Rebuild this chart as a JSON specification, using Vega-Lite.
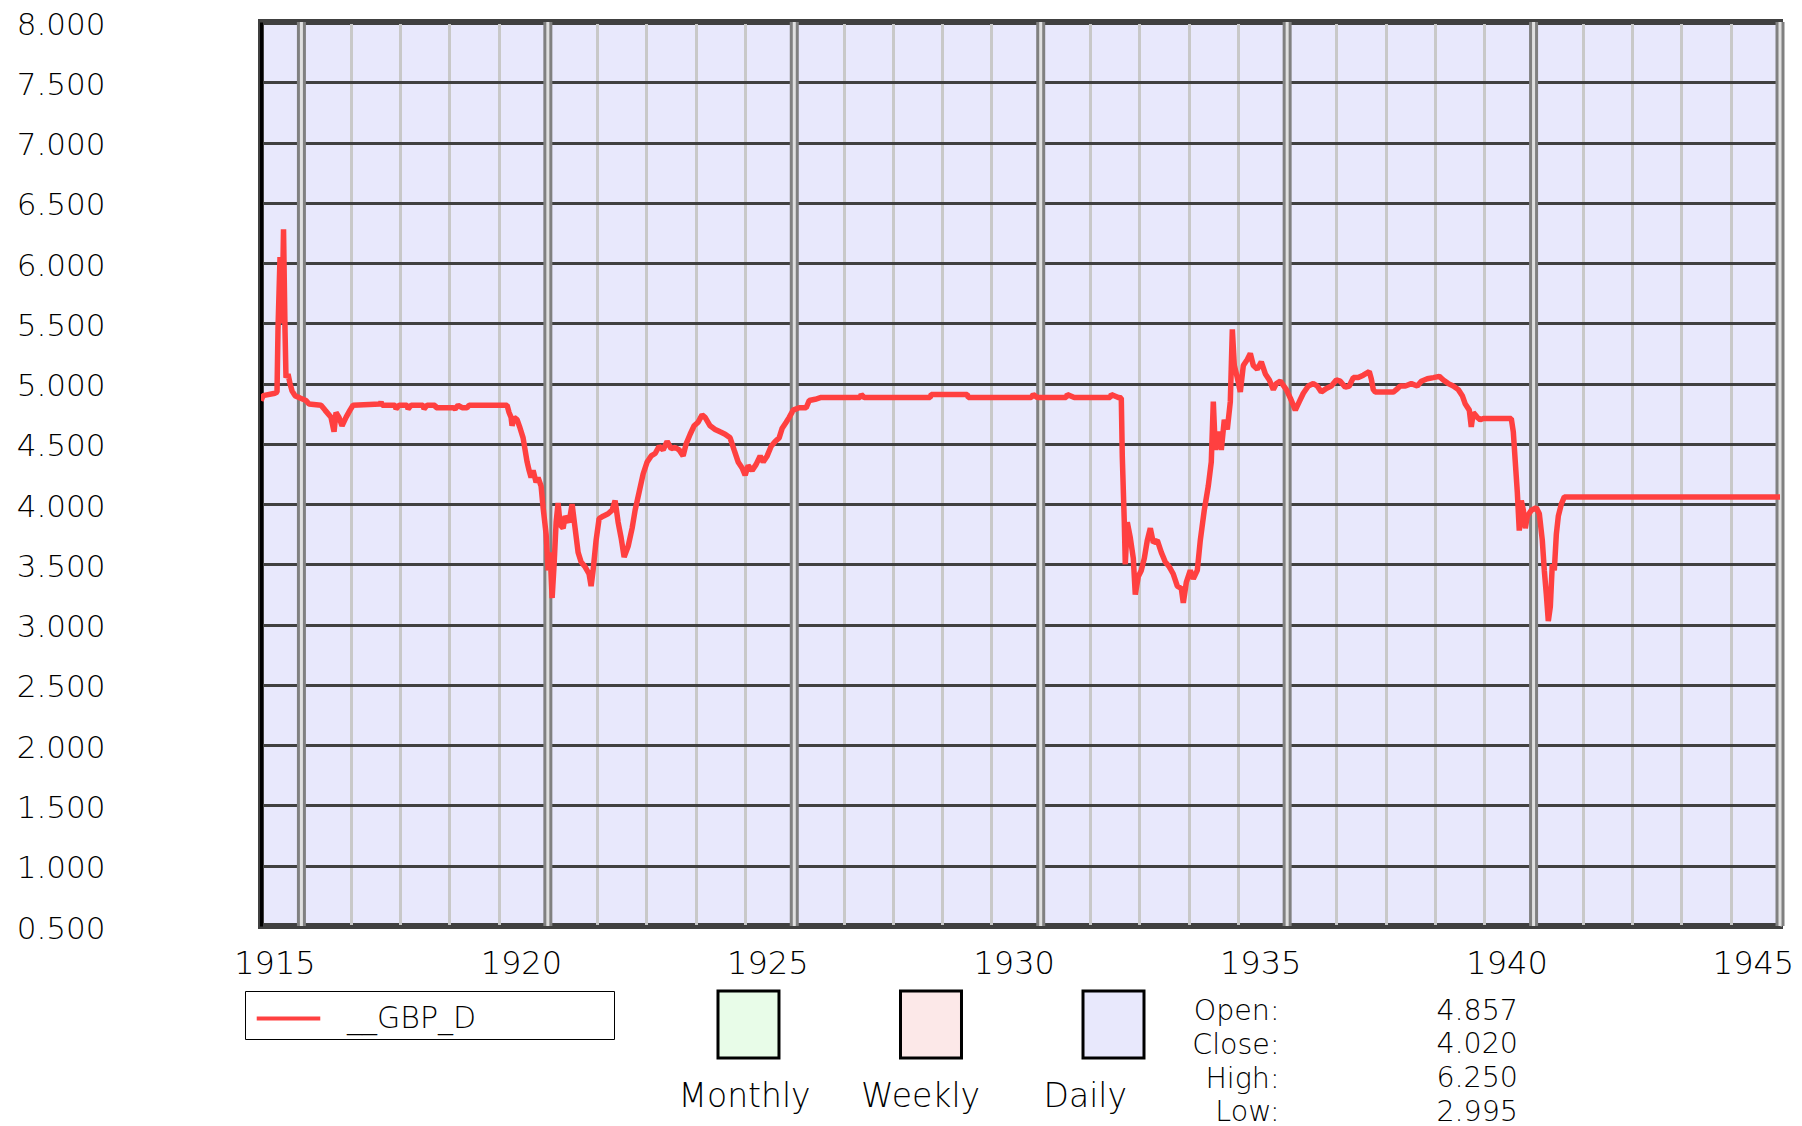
{
  "$schema": "https://vega.github.io/schema/vega-lite/v6.json",
  "background": "white",
  "padding": {"left": 13, "top": 6, "right": 5, "bottom": 0},
  "config": {
    "font": "DejaVu Sans",
    "axis": {"labelFont": "DejaVu Sans", "labelFontWeight": 200, "labelColor": "#000000"},
    "legend": {"labelFont": "DejaVu Sans", "labelFontWeight": 200, "labelColor": "#000000"},
    "text": {"font": "DejaVu Sans", "fontWeight": 200, "color": "#000000"}
  },
  "bounds": "flush",
  "spacing": 65,
  "vconcat": [
    {
      "width": 1519,
      "height": 904,
      "view": {"fill": "#e8e8fc", "stroke": "#404040", "strokeWidth": 6},
      "layer": [
        {
          "data": {"values": [{"year": 1915}, {"year": 1920}, {"year": 1925}, {"year": 1930}, {"year": 1935}, {"year": 1940}, {"year": 1945}]},
          "mark": {"type": "rule", "color": "#808080", "strokeWidth": 9},
          "encoding": {
            "x": {"field": "year", "type": "quantitative", "scale": {"domain": [1914.18, 1945], "nice": false, "zero": false}}
          }
        },
        {
          "data": {"values": [{"year": 1915}, {"year": 1920}, {"year": 1925}, {"year": 1930}, {"year": 1935}, {"year": 1940}, {"year": 1945}]},
          "mark": {"type": "rule", "color": "#e0e0e0", "strokeWidth": 3},
          "encoding": {
            "x": {"field": "year", "type": "quantitative"}
          }
        },
        {
          "data": {"values": [
            {"year": 1914.180, "rate": 4.857}, {"year": 1914.221, "rate": 4.90}, {"year": 1914.464, "rate": 4.92},
            {"year": 1914.505, "rate": 4.93}, {"year": 1914.525, "rate": 5.45}, {"year": 1914.566, "rate": 6.05},
            {"year": 1914.606, "rate": 5.50}, {"year": 1914.637, "rate": 6.28}, {"year": 1914.667, "rate": 5.45},
            {"year": 1914.687, "rate": 5.05}, {"year": 1914.728, "rate": 5.08}, {"year": 1914.769, "rate": 5.00},
            {"year": 1914.809, "rate": 4.94}, {"year": 1914.870, "rate": 4.90}, {"year": 1914.972, "rate": 4.88},
            {"year": 1915.093, "rate": 4.86}, {"year": 1915.154, "rate": 4.83}, {"year": 1915.398, "rate": 4.82},
            {"year": 1915.479, "rate": 4.78}, {"year": 1915.601, "rate": 4.72}, {"year": 1915.662, "rate": 4.60},
            {"year": 1915.702, "rate": 4.76}, {"year": 1915.763, "rate": 4.72}, {"year": 1915.824, "rate": 4.65},
            {"year": 1915.905, "rate": 4.72}, {"year": 1915.986, "rate": 4.78}, {"year": 1916.047, "rate": 4.82},
            {"year": 1916.595, "rate": 4.83}, {"year": 1916.615, "rate": 4.85}, {"year": 1916.636, "rate": 4.82},
            {"year": 1916.900, "rate": 4.82}, {"year": 1916.920, "rate": 4.79}, {"year": 1916.981, "rate": 4.82},
            {"year": 1917.143, "rate": 4.82}, {"year": 1917.164, "rate": 4.79}, {"year": 1917.225, "rate": 4.82},
            {"year": 1917.468, "rate": 4.82}, {"year": 1917.488, "rate": 4.79}, {"year": 1917.549, "rate": 4.82},
            {"year": 1917.712, "rate": 4.82}, {"year": 1917.732, "rate": 4.80}, {"year": 1918.077, "rate": 4.80},
            {"year": 1918.118, "rate": 4.79}, {"year": 1918.178, "rate": 4.82}, {"year": 1918.260, "rate": 4.80},
            {"year": 1918.361, "rate": 4.80}, {"year": 1918.402, "rate": 4.82}, {"year": 1919.173, "rate": 4.82},
            {"year": 1919.213, "rate": 4.76}, {"year": 1919.254, "rate": 4.72}, {"year": 1919.274, "rate": 4.65},
            {"year": 1919.315, "rate": 4.72}, {"year": 1919.376, "rate": 4.70}, {"year": 1919.437, "rate": 4.63},
            {"year": 1919.498, "rate": 4.55}, {"year": 1919.538, "rate": 4.45}, {"year": 1919.579, "rate": 4.35},
            {"year": 1919.619, "rate": 4.28}, {"year": 1919.660, "rate": 4.22}, {"year": 1919.701, "rate": 4.28},
            {"year": 1919.762, "rate": 4.18}, {"year": 1919.802, "rate": 4.22}, {"year": 1919.863, "rate": 4.15},
            {"year": 1919.904, "rate": 3.97}, {"year": 1919.965, "rate": 3.75}, {"year": 1920.005, "rate": 3.45},
            {"year": 1920.046, "rate": 3.60}, {"year": 1920.087, "rate": 3.22}, {"year": 1920.127, "rate": 3.50},
            {"year": 1920.168, "rate": 3.85}, {"year": 1920.208, "rate": 4.01}, {"year": 1920.249, "rate": 3.83},
            {"year": 1920.310, "rate": 3.80}, {"year": 1920.350, "rate": 3.90}, {"year": 1920.432, "rate": 3.85},
            {"year": 1920.492, "rate": 4.00}, {"year": 1920.553, "rate": 3.80}, {"year": 1920.614, "rate": 3.60},
            {"year": 1920.675, "rate": 3.52}, {"year": 1920.756, "rate": 3.48}, {"year": 1920.837, "rate": 3.42},
            {"year": 1920.878, "rate": 3.32}, {"year": 1920.918, "rate": 3.45}, {"year": 1920.979, "rate": 3.70},
            {"year": 1921.040, "rate": 3.88}, {"year": 1921.121, "rate": 3.90}, {"year": 1921.222, "rate": 3.92},
            {"year": 1921.304, "rate": 3.95}, {"year": 1921.365, "rate": 4.03}, {"year": 1921.426, "rate": 3.85},
            {"year": 1921.487, "rate": 3.72}, {"year": 1921.548, "rate": 3.56}, {"year": 1921.629, "rate": 3.65},
            {"year": 1921.710, "rate": 3.80}, {"year": 1921.771, "rate": 3.95}, {"year": 1921.852, "rate": 4.10},
            {"year": 1921.933, "rate": 4.25}, {"year": 1922.015, "rate": 4.35}, {"year": 1922.096, "rate": 4.40},
            {"year": 1922.177, "rate": 4.42}, {"year": 1922.258, "rate": 4.48}, {"year": 1922.339, "rate": 4.45},
            {"year": 1922.420, "rate": 4.52}, {"year": 1922.502, "rate": 4.46}, {"year": 1922.583, "rate": 4.47},
            {"year": 1922.664, "rate": 4.45}, {"year": 1922.745, "rate": 4.40}, {"year": 1922.806, "rate": 4.50},
            {"year": 1922.887, "rate": 4.58}, {"year": 1922.968, "rate": 4.65}, {"year": 1923.049, "rate": 4.68},
            {"year": 1923.130, "rate": 4.74}, {"year": 1923.191, "rate": 4.72}, {"year": 1923.292, "rate": 4.65},
            {"year": 1923.394, "rate": 4.62}, {"year": 1923.495, "rate": 4.60}, {"year": 1923.597, "rate": 4.58},
            {"year": 1923.698, "rate": 4.55}, {"year": 1923.779, "rate": 4.45}, {"year": 1923.861, "rate": 4.35},
            {"year": 1923.942, "rate": 4.30}, {"year": 1924.003, "rate": 4.24}, {"year": 1924.064, "rate": 4.32},
            {"year": 1924.145, "rate": 4.28}, {"year": 1924.226, "rate": 4.33}, {"year": 1924.308, "rate": 4.40},
            {"year": 1924.369, "rate": 4.35}, {"year": 1924.450, "rate": 4.40}, {"year": 1924.531, "rate": 4.48},
            {"year": 1924.612, "rate": 4.52}, {"year": 1924.693, "rate": 4.55}, {"year": 1924.755, "rate": 4.63},
            {"year": 1924.836, "rate": 4.68}, {"year": 1924.897, "rate": 4.72}, {"year": 1924.978, "rate": 4.78},
            {"year": 1925.099, "rate": 4.80}, {"year": 1925.242, "rate": 4.80}, {"year": 1925.303, "rate": 4.86},
            {"year": 1925.424, "rate": 4.87}, {"year": 1925.546, "rate": 4.885}, {"year": 1926.338, "rate": 4.885},
            {"year": 1926.358, "rate": 4.91}, {"year": 1926.419, "rate": 4.885}, {"year": 1927.758, "rate": 4.885},
            {"year": 1927.778, "rate": 4.91}, {"year": 1928.509, "rate": 4.91}, {"year": 1928.529, "rate": 4.885},
            {"year": 1929.808, "rate": 4.885}, {"year": 1929.848, "rate": 4.91}, {"year": 1929.929, "rate": 4.885},
            {"year": 1930.518, "rate": 4.885}, {"year": 1930.539, "rate": 4.91}, {"year": 1930.681, "rate": 4.885},
            {"year": 1931.412, "rate": 4.885}, {"year": 1931.432, "rate": 4.91}, {"year": 1931.574, "rate": 4.885},
            {"year": 1931.635, "rate": 4.88}, {"year": 1931.655, "rate": 4.40}, {"year": 1931.696, "rate": 3.85},
            {"year": 1931.716, "rate": 3.50}, {"year": 1931.757, "rate": 3.85}, {"year": 1931.818, "rate": 3.72},
            {"year": 1931.879, "rate": 3.55}, {"year": 1931.919, "rate": 3.25}, {"year": 1931.980, "rate": 3.40},
            {"year": 1932.041, "rate": 3.45}, {"year": 1932.102, "rate": 3.55}, {"year": 1932.163, "rate": 3.70},
            {"year": 1932.224, "rate": 3.80}, {"year": 1932.285, "rate": 3.68}, {"year": 1932.366, "rate": 3.70},
            {"year": 1932.447, "rate": 3.60}, {"year": 1932.528, "rate": 3.52}, {"year": 1932.609, "rate": 3.48},
            {"year": 1932.690, "rate": 3.42}, {"year": 1932.772, "rate": 3.32}, {"year": 1932.853, "rate": 3.30},
            {"year": 1932.893, "rate": 3.18}, {"year": 1932.954, "rate": 3.35}, {"year": 1933.035, "rate": 3.45},
            {"year": 1933.096, "rate": 3.38}, {"year": 1933.177, "rate": 3.45}, {"year": 1933.238, "rate": 3.70},
            {"year": 1933.319, "rate": 3.95}, {"year": 1933.400, "rate": 4.15}, {"year": 1933.461, "rate": 4.35},
            {"year": 1933.502, "rate": 4.85}, {"year": 1933.543, "rate": 4.45}, {"year": 1933.604, "rate": 4.60},
            {"year": 1933.664, "rate": 4.45}, {"year": 1933.725, "rate": 4.70}, {"year": 1933.786, "rate": 4.62},
            {"year": 1933.847, "rate": 4.85}, {"year": 1933.888, "rate": 5.45}, {"year": 1933.928, "rate": 5.15},
            {"year": 1933.989, "rate": 5.05}, {"year": 1934.050, "rate": 4.93}, {"year": 1934.111, "rate": 5.15},
            {"year": 1934.192, "rate": 5.20}, {"year": 1934.253, "rate": 5.25}, {"year": 1934.314, "rate": 5.15},
            {"year": 1934.395, "rate": 5.12}, {"year": 1934.476, "rate": 5.18}, {"year": 1934.558, "rate": 5.08},
            {"year": 1934.639, "rate": 5.03}, {"year": 1934.720, "rate": 4.95}, {"year": 1934.781, "rate": 5.00},
            {"year": 1934.862, "rate": 5.02}, {"year": 1934.984, "rate": 4.95}, {"year": 1935.065, "rate": 4.88},
            {"year": 1935.166, "rate": 4.78}, {"year": 1935.247, "rate": 4.85}, {"year": 1935.328, "rate": 4.92},
            {"year": 1935.429, "rate": 4.98}, {"year": 1935.531, "rate": 5.00}, {"year": 1935.612, "rate": 4.98},
            {"year": 1935.693, "rate": 4.93}, {"year": 1935.794, "rate": 4.96}, {"year": 1935.896, "rate": 4.98},
            {"year": 1935.997, "rate": 5.03}, {"year": 1936.078, "rate": 5.02}, {"year": 1936.179, "rate": 4.97},
            {"year": 1936.261, "rate": 4.98}, {"year": 1936.342, "rate": 5.05}, {"year": 1936.443, "rate": 5.05},
            {"year": 1936.545, "rate": 5.07}, {"year": 1936.666, "rate": 5.10}, {"year": 1936.707, "rate": 5.04},
            {"year": 1936.748, "rate": 4.95}, {"year": 1936.788, "rate": 4.93}, {"year": 1937.154, "rate": 4.93},
            {"year": 1937.215, "rate": 4.95}, {"year": 1937.296, "rate": 4.98}, {"year": 1937.398, "rate": 4.98},
            {"year": 1937.519, "rate": 5.00}, {"year": 1937.641, "rate": 4.98}, {"year": 1937.722, "rate": 5.02},
            {"year": 1937.844, "rate": 5.04}, {"year": 1937.966, "rate": 5.05}, {"year": 1938.087, "rate": 5.06},
            {"year": 1938.168, "rate": 5.03}, {"year": 1938.270, "rate": 5.00}, {"year": 1938.371, "rate": 4.98},
            {"year": 1938.473, "rate": 4.95}, {"year": 1938.554, "rate": 4.90}, {"year": 1938.615, "rate": 4.83},
            {"year": 1938.696, "rate": 4.78}, {"year": 1938.736, "rate": 4.64}, {"year": 1938.777, "rate": 4.76},
            {"year": 1938.858, "rate": 4.72}, {"year": 1938.919, "rate": 4.70}, {"year": 1938.980, "rate": 4.71},
            {"year": 1939.548, "rate": 4.71}, {"year": 1939.589, "rate": 4.60}, {"year": 1939.629, "rate": 4.35},
            {"year": 1939.670, "rate": 4.10}, {"year": 1939.710, "rate": 3.78}, {"year": 1939.751, "rate": 4.03},
            {"year": 1939.792, "rate": 3.95}, {"year": 1939.832, "rate": 3.80}, {"year": 1939.873, "rate": 3.90},
            {"year": 1939.954, "rate": 3.95}, {"year": 1940.056, "rate": 3.97}, {"year": 1940.117, "rate": 3.92},
            {"year": 1940.177, "rate": 3.70}, {"year": 1940.218, "rate": 3.45}, {"year": 1940.259, "rate": 3.25},
            {"year": 1940.299, "rate": 3.03}, {"year": 1940.340, "rate": 3.15}, {"year": 1940.380, "rate": 3.50},
            {"year": 1940.421, "rate": 3.45}, {"year": 1940.462, "rate": 3.75}, {"year": 1940.502, "rate": 3.90},
            {"year": 1940.563, "rate": 4.00}, {"year": 1940.624, "rate": 4.06}, {"year": 1945.000, "rate": 4.06}
          ]},
          "mark": {"type": "line", "strokeWidth": 5.5, "strokeJoin": "bevel", "clip": true},
          "encoding": {
            "x": {
              "field": "year", "type": "quantitative",
              "axis": {
                "title": null,
                "values": [1915, 1916, 1917, 1918, 1919, 1920, 1921, 1922, 1923, 1924, 1925, 1926, 1927, 1928, 1929, 1930, 1931, 1932, 1933, 1934, 1935, 1936, 1937, 1938, 1939, 1940, 1941, 1942, 1943, 1944, 1945],
                "format": "d",
                "labelExpr": "datum.value % 5 === 0 ? datum.label : ''",
                "labelOverlap": false,
                "labelFlush": false,
                "labelFontSize": 32,
                "labelOffset": -27,
                "labelPadding": 22,
                "domain": false,
                "ticks": false,
                "tickSize": 0,
                "grid": true,
                "gridColor": "#c8c8c8",
                "gridWidth": 3,
                "gridOpacity": 1
              }
            },
            "y": {
              "field": "rate", "type": "quantitative",
              "scale": {"domain": [0.5, 8], "nice": false, "zero": false},
              "axis": {
                "title": null,
                "values": [0.5, 1, 1.5, 2, 2.5, 3, 3.5, 4, 4.5, 5, 5.5, 6, 6.5, 7, 7.5, 8],
                "format": ".3f",
                "labelOverlap": false,
                "labelFlush": false,
                "labelFontSize": 31,
                "labelPadding": 156,
                "labelOffset": 3,
                "domain": true,
                "domainColor": "#000000",
                "domainWidth": 3,
                "ticks": false,
                "tickSize": 0,
                "grid": true,
                "gridColor": "#404040",
                "gridWidth": 3,
                "gridOpacity": 1
              }
            },
            "color": {
              "datum": "__GBP_D", "type": "nominal",
              "scale": {"range": ["#ff4040"]},
              "legend": {
                "orient": "none",
                "legendX": -16,
                "legendY": 969,
                "title": null,
                "symbolType": "M-1.55,0H1.55",
                "symbolSize": 1681,
                "symbolStrokeWidth": 4,
                "symbolOffset": 16,
                "labelFontSize": 30,
                "labelOffset": 36,
                "labelLimit": 600,
                "labelExpr": "datum.label + '\u2800\u2800\u2800\u2800\u2800\u2800'",
                "padding": 5,
                "strokeColor": "#000000",
                "fillColor": "#ffffff"
              }
            }
          }
        }
      ]
    },
    {
      "bounds": "flush",
      "spacing": 149,
      "hconcat": [
        {
          "width": 883,
          "height": 67,
          "view": {"stroke": null},
          "data": {"values": [{"period": "Monthly"}, {"period": "Weekly"}, {"period": "Daily"}]},
          "mark": {"type": "rect", "stroke": "#000000", "strokeWidth": 3},
          "encoding": {
            "x": {
              "field": "period", "type": "nominal", "sort": null,
              "scale": {"domain": ["", "Monthly", "Weekly", "Daily"], "paddingInner": 0.6658, "paddingOuter": 0.752, "align": 1},
              "axis": {"title": null, "domain": false, "ticks": false, "labelAngle": 0, "labelAlign": "left", "labelOffset": -70, "labelPadding": 22, "labelFontSize": 33}
            },
            "fill": {
              "field": "period", "type": "nominal", "sort": null,
              "scale": {"domain": ["Monthly", "Weekly", "Daily"], "range": ["#e8fce8", "#fce8e8", "#e8e8fc"]},
              "legend": null
            }
          }
        },
        {
          "width": 450,
          "height": 140.5,
          "view": {"stroke": null},
          "data": {"values": [
            {"stat": "Open:", "value": 4.857},
            {"stat": "Close:", "value": 4.020},
            {"stat": "High:", "value": 6.250},
            {"stat": "Low:", "value": 2.995}
          ]},
          "mark": {"type": "text", "align": "right", "baseline": "middle", "fontSize": 28.5},
          "encoding": {
            "y": {
              "field": "stat", "type": "nominal", "sort": null,
              "scale": {"type": "point", "padding": 0.597},
              "axis": {"title": null, "domain": false, "ticks": false, "labelPadding": 14, "labelFontSize": 28.5}
            },
            "text": {"field": "value", "type": "quantitative", "format": ".3f"}
          }
        }
      ]
    }
  ]
}
